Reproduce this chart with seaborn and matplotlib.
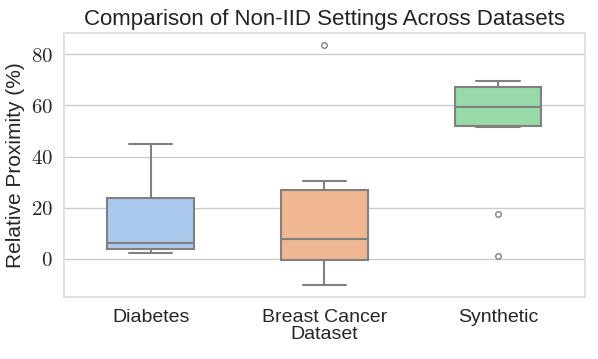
import numpy as np
import pandas as pd
import matplotlib
matplotlib.use("Agg")
import matplotlib.pyplot as plt
from matplotlib.ticker import FuncFormatter
import seaborn as sns

categories = ["Diabetes", "Breast Cancer", "Synthetic"]
diabetes = [2.2, 3.9, 6.1, 23.7, 44.9]
breast_cancer = [-10.1, -5.0, -0.4, 3.0, 7.7, 15.0, 26.8, 30.4, 83.6]
synthetic = [1.3, 17.4, 51.5, 52.3, 55.0, 59.3, 62.0, 66.6, 67.4, 68.5, 69.3]
yticks = [0, 20, 40, 60, 80]

df = pd.DataFrame({
    "Dataset": [categories[0]] * len(diabetes) + [categories[1]] * len(breast_cancer) + [categories[2]] * len(synthetic),
    "Value": diabetes + breast_cancer + synthetic,
})

sns.set_theme(style="whitegrid")
plt.rcParams["font.family"] = ["Liberation Sans", "DejaVu Sans"]
plt.rcParams["mathtext.fontset"] = "cm"

fig = plt.figure(figsize=(5.98, 3.59), dpi=100)
ax = fig.add_axes([0.107, 0.173, 0.871, 0.735])
sns.boxplot(data=df, x="Dataset", y="Value", hue="Dataset", palette="pastel",
            width=0.5, order=categories, ax=ax, legend=False,
            linecolor="0.5", linewidth=1.5,
            flierprops=dict(marker="o", markersize=4))
ax.set_ylim(-14.8, 88.2)
ax.set_yticks(yticks)
ax.yaxis.set_major_formatter(FuncFormatter(lambda v, p: f"${v:g}$"))
ax.tick_params(axis="y", labelsize=15, pad=2)
ax.tick_params(axis="x", labelsize=14, pad=3)
ax.set_xlabel("Dataset", fontsize=14, labelpad=0)
ax.set_ylabel("Relative Proximity (%)", fontsize=15, labelpad=4)
ax.set_title("Comparison of Non-IID Settings Across Datasets", fontsize=16, pad=6, color="#222222")
for s in ax.spines.values():
    s.set_color("#dddddd")
fig.savefig("out.png", dpi=100)
